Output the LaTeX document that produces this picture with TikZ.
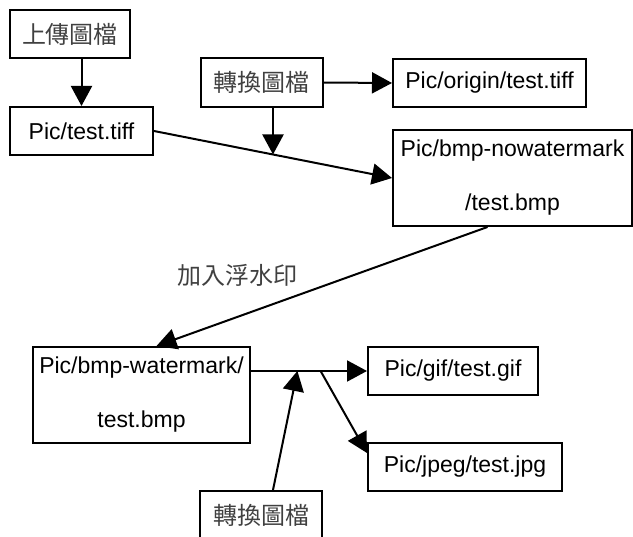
\documentclass[tikz,border=0pt]{standalone}
\usepackage{fontspec}
\setmainfont{Liberation Sans}
\newfontfamily\zhfont{Noto Sans CJK TC}
\usetikzlibrary{arrows.meta}

\begin{document}
\begin{tikzpicture}[x=1pt, y=-1pt, >={Triangle[length=20pt,width=21pt]},
  box/.style={draw, line width=2pt, inner sep=0pt, align=center,
    font=\fontsize{23}{54}\selectfont},
  zh/.style={font=\zhfont\fontsize{24}{28}\selectfont, text=black!75},
  wire/.style={->, line width=2pt}]
\clip (0,0) rectangle (633,537);

\node[box, zh, minimum width=120pt, minimum height=48pt] (upload) at (70,34) {上傳圖檔};
\node[box, minimum width=143pt, minimum height=48pt] (tiff) at (81.5,131) {Pic/test.tiff};
\node[box, zh, minimum width=122pt, minimum height=49pt] (conv1) at (261.5,82.5) {轉換圖檔};
\node[box, minimum width=193pt, minimum height=48pt] (orig) at (489.5,83) {Pic/origin/test.tiff};
\node[box, minimum width=239pt, minimum height=96pt] (nowm) at (512.5,178) {Pic/bmp-nowatermark\\/test.bmp};

\node[zh] (wmlabel) at (237,275) {加入浮水印};

\node[box, minimum width=217pt, minimum height=96pt] (wm) at (141.5,395) {Pic/bmp-watermark/\\test.bmp};
\node[box, minimum width=170pt, minimum height=48pt] (gif) at (453,371) {Pic/gif/test.gif};
\node[box, minimum width=194pt, minimum height=48pt] (jpg) at (465,467) {Pic/jpeg/test.jpg};
\node[box, zh, minimum width=122pt, minimum height=49pt] (conv2) at (261,515.5) {轉換圖檔};

% upload and first conversion
\draw[wire] (upload.south -| tiff.north) -- (tiff.north);
\draw[wire] (conv1.east) -- (orig.west);
\draw[wire] (tiff.east) -- coordinate[pos=0.5] (j1) (nowm.west);
\draw[wire] (conv1.south -| j1) -- (j1);

% watermark
\draw[wire] ([xshift=-25pt]nowm.south) -- ([xshift=15pt]wm.north);

% second conversion
\draw[wire] (wm.east |- gif.west) -- coordinate[pos=0.4] (j2) coordinate[pos=0.6] (j3) (gif.west);
\draw[wire] (j3) -- ([yshift=14pt]jpg.west);
\draw[wire] ([xshift=12pt]conv2.north) -- (j2);
\end{tikzpicture}
\end{document}
